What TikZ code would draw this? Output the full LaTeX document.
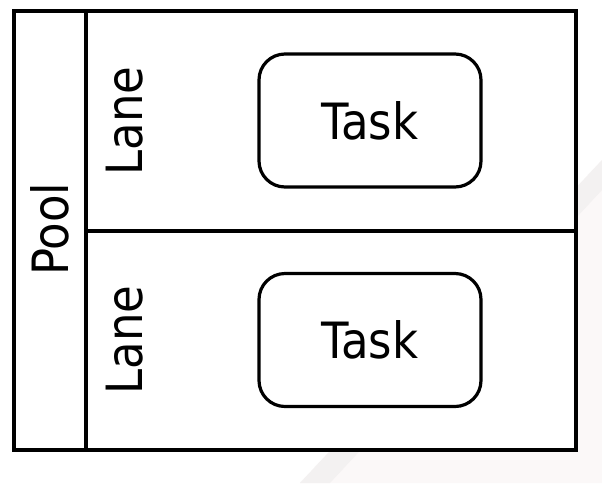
\documentclass[tikz,border=0pt]{standalone}
\usepackage{fontspec}
\setmainfont{DejaVu Sans Condensed}
\begin{document}
\begin{tikzpicture}[x=1pt,y=-1pt,
  frame/.style={draw=black,line width=3.2pt,inner sep=0pt,outer sep=0pt},
  taskbox/.style={draw=black,line width=3.2pt,rounded corners=26pt,minimum width=222pt,minimum height=133pt,inner sep=0pt},
  lbl/.style={font=\fontsize{50}{52}\selectfont,inner sep=0pt},
]
\useasboundingbox (0,0) rectangle (602,483);
\fill[white] (0,0) rectangle (602,483);
% faint watermark
\fill[color={rgb,255:red,251;green,248;blue,248}] (300,483) -- (602,160) -- (602,483) -- cycle;
\fill[color={rgb,255:red,243;green,241;blue,241}] (300,483) -- (602,160) -- (602,190) -- (330,483) -- cycle;
% pool and lanes
\node[frame,fill=white,minimum width=562pt,minimum height=439pt,anchor=north west] (pool) at (14,11) {};
\node[frame,minimum width=490pt,minimum height=220pt,anchor=north west] (lane1) at (86,11) {};
\node[frame,minimum width=490pt,minimum height=219pt,anchor=north west] (lane2) at (86,231) {};
\node[lbl,rotate=90] (poollbl) at (50,229) {Pool};
\node[lbl,rotate=90] (lane1lbl) at (125,121) {Lane};
\node[lbl,rotate=90] (lane2lbl) at (125,340) {Lane};
\node[taskbox] (task1) at (370,120.5) {};
\node[taskbox] (task2) at (370,340) {};
\node[lbl] (task1lbl) at (370,121) {Task};
\node[lbl] (task2lbl) at (370,340) {Task};
\end{tikzpicture}
\end{document}
